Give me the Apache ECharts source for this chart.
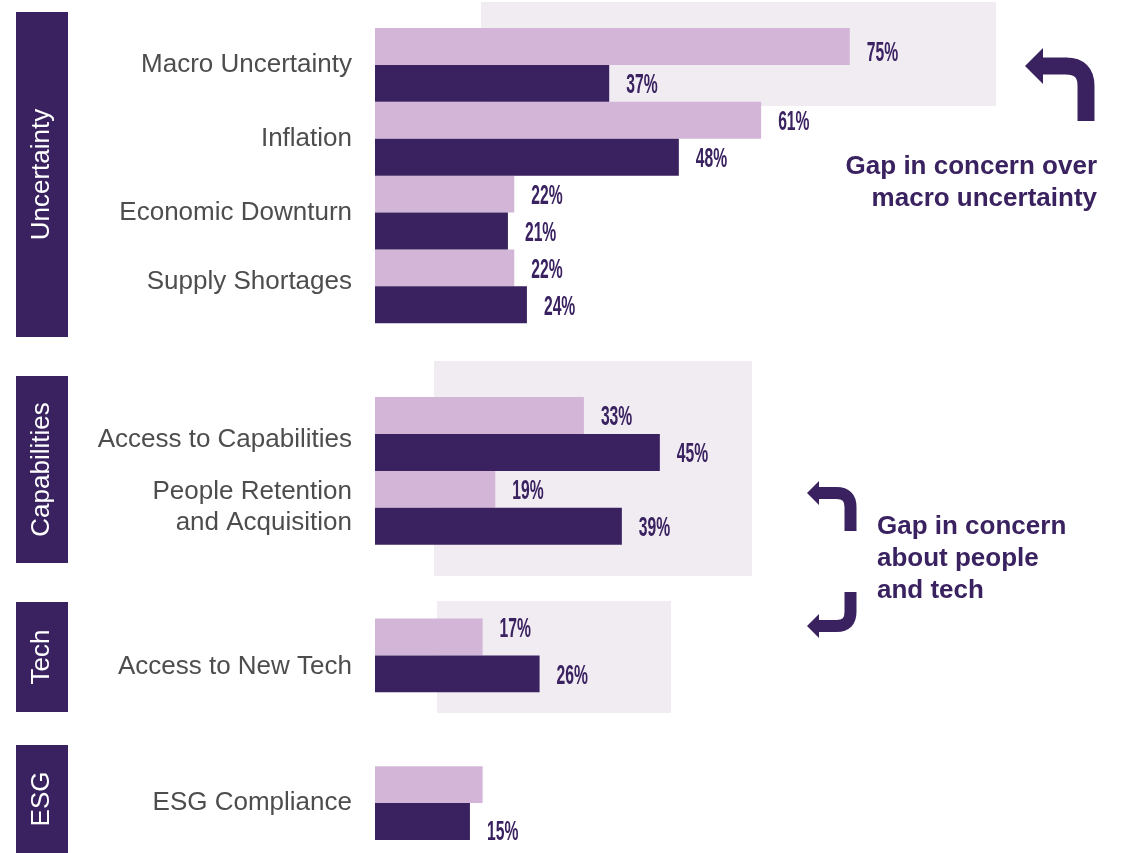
<!DOCTYPE html>
<html>
<head>
<meta charset="utf-8">
<title>Top concerns by theme</title>
<script src="https://cdn.jsdelivr.net/npm/echarts@6/dist/echarts.min.js"></script>
<style>
  html, body { margin: 0; padding: 0; background: #ffffff; }
  #chart { width: 1124px; height: 853px; }
</style>
</head>
<body>
<div id="chart"></div>
<script>
// Themes and how many concerns each one holds (in display order)
const groupNames = ['Uncertainty', 'Capabilities', 'Tech', 'ESG'];
const groupSizes = [4, 2, 1, 1];

// Concerns, top to bottom
const categories = [
  'Macro Uncertainty',
  'Inflation',
  'Economic Downturn',
  'Supply Shortages',
  'Access to Capabilities',
  'People Retention\nand Acquisition',
  'Access to New Tech',
  'ESG Compliance'
];

// Share of respondents (%) – upper (light) and lower (dark) bar of each pair
const lightValues = [75, 61, 22, 22, 33, 19, 17, 17];
const darkValues  = [37, 48, 21, 24, 45, 39, 26, 15];

// Light bar whose value is left unlabelled
const unlabelledLight = ['ESG Compliance'];

const LIGHT = '#d2b5d7';
const DARK = '#3a2260';
const SHADE = '#f1ebf2';
const INK = '#4d4d4d';

// Vertical nudges for a few value labels (px)
const lightNudge = { 'Macro Uncertainty': 5, 'Access to New Tech': -10 };
const darkNudge = { 'ESG Compliance': 9 };

// Category label styles that sit a little off the pair's centre
const categoryLabelStyle = {
  'Supply Shortages': 'up',
  'Access to Capabilities': 'down',
  'Access to New Tech': 'low'
};

// One axis slot per concern, with a blank slot between themes
const slots = [];
const lightData = [];
const darkData = [];
const labelItems = []; // value labels: slot, which half of the slot, nudge
let k = 0;
groupSizes.forEach(function (n, g) {
  if (g > 0) {
    slots.push(' '.repeat(g));
    lightData.push('-');
    darkData.push('-');
  }
  for (let i = 0; i < n; i++, k++) {
    const name = categories[k];
    const slot = slots.length;
    slots.push(name);
    lightData.push(lightValues[k]);
    darkData.push(darkValues[k]);
    if (unlabelledLight.indexOf(name) < 0) {
      labelItems.push({ value: lightValues[k], slot: slot, half: -1, dy: lightNudge[name] || 0 });
    }
    labelItems.push({ value: darkValues[k], slot: slot, half: 1, dy: darkNudge[name] || 0 });
  }
});

// Theme tabs down the left edge
const tabs = [
  { name: groupNames[0], top: 12, bottom: 337 },
  { name: groupNames[1], top: 376, bottom: 563 },
  { name: groupNames[2], top: 602, bottom: 712 },
  { name: groupNames[3], top: 745, bottom: 860 }
];
const tabGraphics = [];
tabs.forEach(function (t) {
  tabGraphics.push({
    type: 'rect', z: 5,
    shape: { x: 16, y: t.top, width: 52, height: t.bottom - t.top },
    style: { fill: DARK }
  });
  tabGraphics.push({
    type: 'text', z: 6,
    x: 42, y: (t.top + Math.min(t.bottom, 853)) / 2,
    rotation: Math.PI / 2,
    style: {
      text: t.name, align: 'center', verticalAlign: 'middle',
      fill: '#ffffff', font: '26px "Liberation Sans", Arial, sans-serif'
    }
  });
});

// Highlight panels behind the bars
const panels = [
  { x: 481, y: 2, w: 515, h: 104 },
  { x: 434, y: 361, w: 318, h: 215 },
  { x: 437, y: 601, w: 234, h: 112 }
];
const panelGraphics = panels.map(function (p) {
  return {
    type: 'rect', z: 0,
    shape: { x: p.x, y: p.y, width: p.w, height: p.h },
    style: { fill: SHADE }
  };
});

// Bent arrow: vertical stem, rounded corner, horizontal run, arrow head pointing left
function bentArrow(sx, sy, cornerY, endX, r, width, headLen, headHalf) {
  const dir = cornerY < sy ? -1 : 1; // stem goes up (-1) or down (+1)
  const stroke = { stroke: DARK, lineWidth: width, fill: null };
  return [
    { type: 'line', z: 5,
      shape: { x1: sx, y1: sy, x2: sx, y2: cornerY - dir * r }, style: stroke },
    { type: 'bezierCurve', z: 5,
      shape: { x1: sx, y1: cornerY - dir * r, x2: sx - r, y2: cornerY,
               cpx1: sx, cpy1: cornerY }, style: stroke },
    { type: 'line', z: 5,
      shape: { x1: sx - r + 0.5, y1: cornerY, x2: endX + headLen - 1, y2: cornerY }, style: stroke },
    { type: 'polygon', z: 5,
      shape: { points: [[endX, cornerY], [endX + headLen, cornerY - headHalf], [endX + headLen, cornerY + headHalf]] },
      style: { fill: DARK } }
  ];
}
const arrowGraphics = [].concat(
  bentArrow(1086, 121, 66, 1025, 20, 17, 18, 18),
  bentArrow(850.5, 531, 493, 807, 14, 12, 12, 12),
  bentArrow(850.5, 592, 626, 807, 14, 12, 12, 12)
);

const noteGraphics = [
  {
    type: 'text', z: 6, x: 1097, y: 151,
    style: {
      text: 'Gap in concern over\nmacro uncertainty',
      align: 'right', verticalAlign: 'top', lineHeight: 32,
      fill: DARK, font: 'bold 26px "Liberation Sans", Arial, sans-serif'
    }
  },
  {
    type: 'text', z: 6, x: 877, y: 511,
    style: {
      text: 'Gap in concern\nabout people\nand tech',
      align: 'left', verticalAlign: 'top', lineHeight: 32,
      fill: DARK, font: 'bold 26px "Liberation Sans", Arial, sans-serif'
    }
  }
];

// Condensed value labels placed just past the end of each bar
function renderValueLabel(params, api) {
  const item = labelItems[params.dataIndex];
  const end = api.coord([api.value(0), api.value(1)]);
  const band = api.size([0, 1])[1];
  return {
    type: 'text',
    x: end[0] + 17,
    y: end[1] + item.half * band / 4 + 2 + item.dy,
    scaleX: 0.56,
    style: {
      text: item.value + '%',
      fill: DARK,
      fontFamily: '"Liberation Sans", Arial, sans-serif',
      fontWeight: 'bold',
      fontSize: 28,
      align: 'left',
      verticalAlign: 'middle'
    }
  };
}

const labelFont = {
  color: INK,
  fontFamily: '"Liberation Sans", Arial, sans-serif',
  fontSize: 26
};

const chart = echarts.init(document.getElementById('chart'), null, { renderer: 'canvas' });
chart.setOption({
  animation: false,
  backgroundColor: '#ffffff',
  grid: { left: 375, right: 116, top: 28, bottom: 13, containLabel: false },
  xAxis: {
    type: 'value', min: 0, max: 100,
    show: false
  },
  yAxis: {
    type: 'category',
    data: slots,
    inverse: true,
    axisLine: { show: false },
    axisTick: { show: false },
    splitLine: { show: false },
    axisLabel: {
      margin: 23,
      color: INK,
      fontFamily: '"Liberation Sans", Arial, sans-serif',
      fontSize: 26,
      lineHeight: 31,
      align: 'right',
      formatter: function (v) {
        const s = categoryLabelStyle[v];
        return s ? '{' + s + '|' + v + '}' : v;
      },
      rich: {
        up: Object.assign({ padding: [0, 0, 10, 0] }, labelFont),
        down: Object.assign({ padding: [12, 0, 0, 0] }, labelFont),
        low: Object.assign({ padding: [22, 0, 0, 0] }, labelFont)
      }
    }
  },
  series: [
    {
      name: 'Light',
      type: 'bar',
      data: lightData,
      barGap: '0%',
      barCategoryGap: '0%',
      itemStyle: { color: LIGHT },
      z: 3
    },
    {
      name: 'Dark',
      type: 'bar',
      data: darkData,
      barGap: '0%',
      barCategoryGap: '0%',
      itemStyle: { color: DARK },
      z: 3
    },
    {
      name: 'Value labels',
      type: 'custom',
      clip: false,
      silent: true,
      z: 4,
      encode: { x: 0, y: 1 },
      data: labelItems.map(function (d) { return [d.value, d.slot]; }),
      renderItem: renderValueLabel
    }
  ],
  graphic: { elements: [].concat(panelGraphics, tabGraphics, arrowGraphics, noteGraphics) }
});
</script>
</body>
</html>
